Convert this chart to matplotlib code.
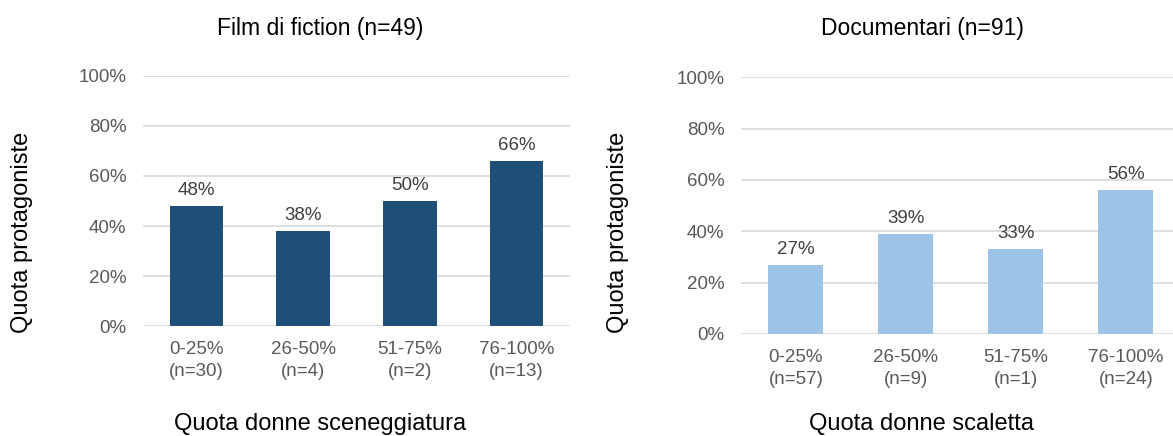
import matplotlib.pyplot as plt

plt.rcParams['font.family'] = ['Liberation Sans', 'DejaVu Sans']

categories = ['0-25%', '26-50%', '51-75%', '76-100%']
fiction_n = [30, 4, 2, 13]
fiction_vals = [0.48, 0.38, 0.50, 0.66]
doc_n = [57, 9, 1, 24]
doc_vals = [0.27, 0.39, 0.33, 0.56]
yticks = [0, 0.2, 0.4, 0.6, 0.8, 1.0]

panels = [
    dict(title='Film di fiction (n=49)', xlabel='Quota donne sceneggiatura',
         vals=fiction_vals, n=fiction_n, color='#1F4E79',
         rect=[0.1219, 0.252, 0.364, 0.574], tx=0.273, ylx=0.019),
    dict(title='Documentari (n=91)', xlabel='Quota donne scaletta',
         vals=doc_vals, n=doc_n, color='#9DC3E6',
         rect=[0.6317, 0.234, 0.375, 0.589], tx=0.786, ylx=0.527),
]

fig = plt.figure(figsize=(11.73, 4.36), dpi=100)

for p in panels:
    ax = fig.add_axes(p['rect'])
    x = range(len(categories))
    ax.bar(x, p['vals'], width=0.5, color=p['color'], zorder=3)
    for xi, v in zip(x, p['vals']):
        ax.annotate(f'{round(v * 100)}%', (xi, v), xytext=(0, 5), textcoords='offset points',
                    ha='center', va='bottom', fontsize=13.5, color='#404040')
    ax.set_xlim(-0.5, len(categories) - 0.5)
    ax.set_ylim(0, 1)
    ax.set_yticks(yticks)
    ax.set_yticklabels([f'{int(t * 100)}%' for t in yticks])
    ax.set_xticks(list(x))
    ax.set_xticklabels([f'{c}\n(n={n})' for c, n in zip(categories, p['n'])], linespacing=1.35)
    ax.tick_params(axis='both', length=0, labelsize=13.5, labelcolor='#595959')
    ax.tick_params(axis='x', pad=11)
    ax.tick_params(axis='y', pad=12)
    ax.grid(axis='y', color='#D9D9D9', linewidth=1.2, zorder=0)
    for s in ax.spines.values():
        s.set_visible(False)
    fig.text(p['tx'], 0.934, p['title'], ha='center', va='center', fontsize=16.5, color='black')
    fig.text(p['tx'], 0.027, p['xlabel'], ha='center', va='center', fontsize=17, color='black')
    fig.text(p['ylx'], 0.468, 'Quota protagoniste', rotation=90, ha='center', va='center',
             fontsize=17, color='black')

fig.savefig('out.png', dpi=100, facecolor='white')
